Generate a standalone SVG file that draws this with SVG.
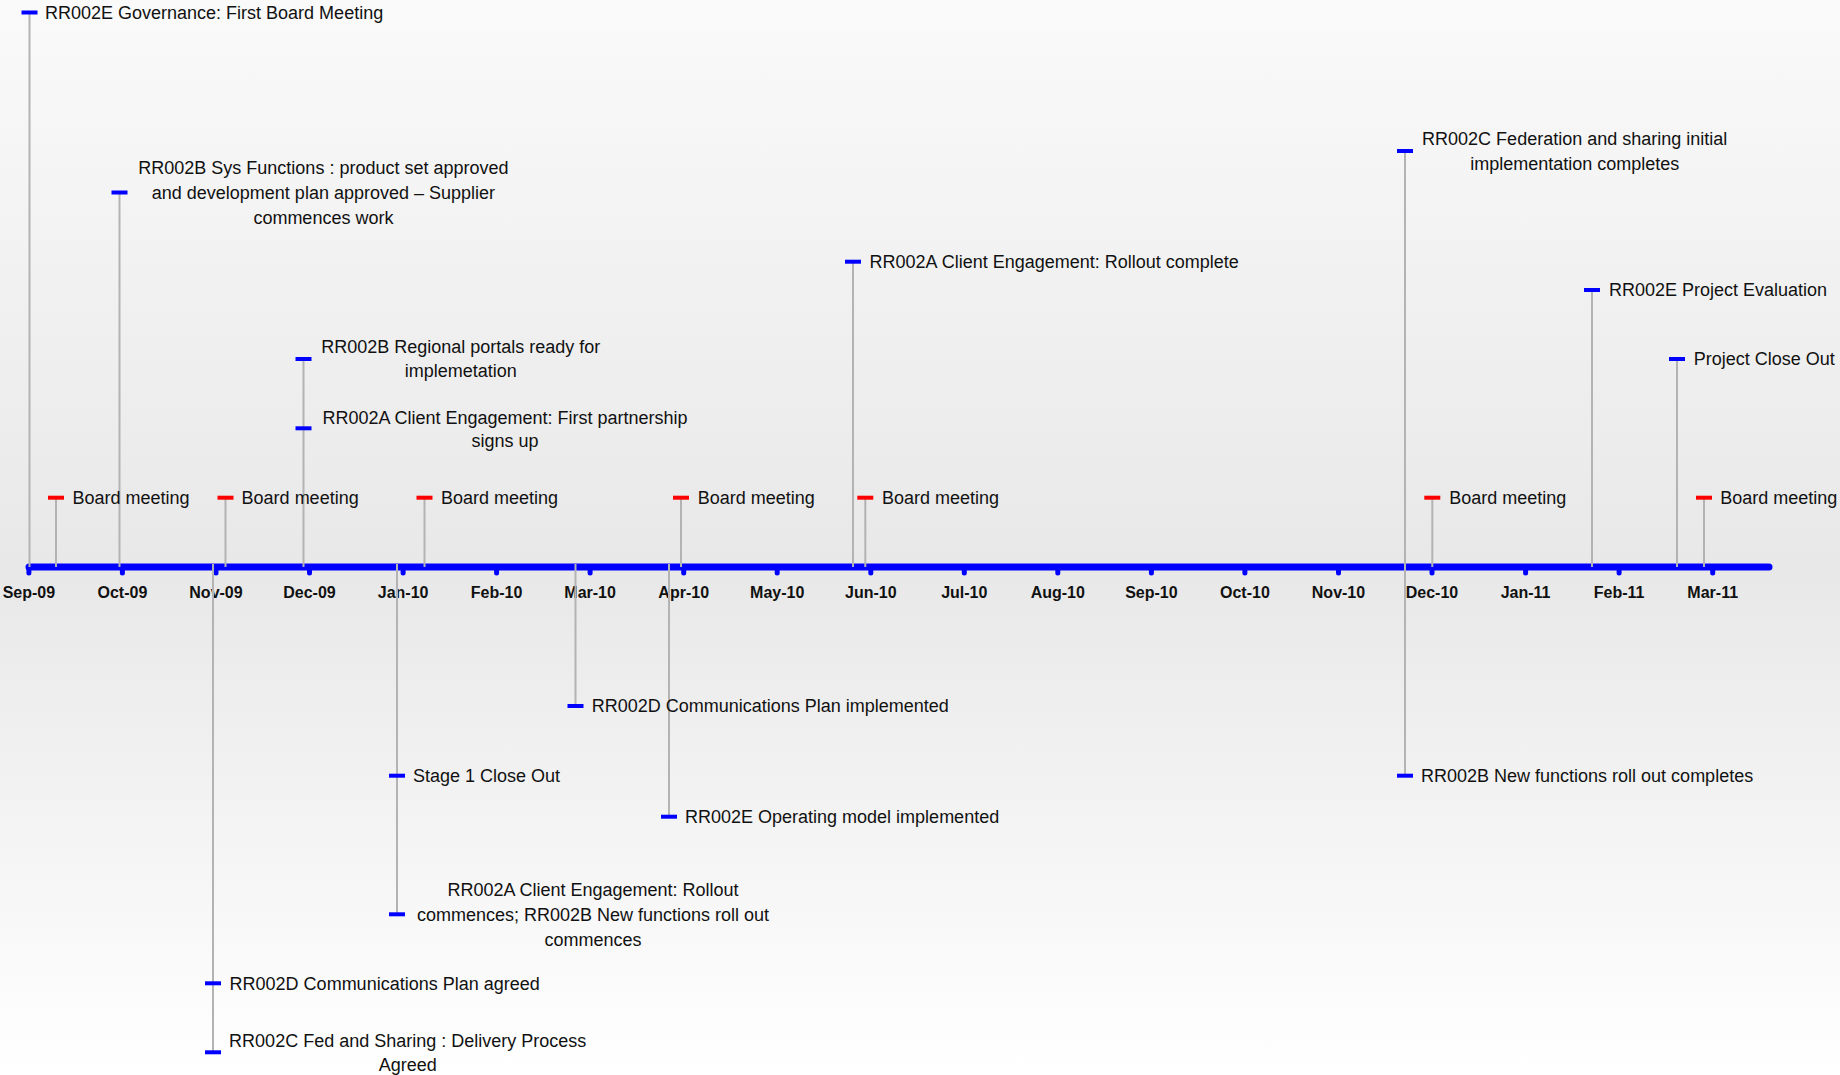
<svg xmlns="http://www.w3.org/2000/svg" width="1840" height="1075" viewBox="0 0 1840 1075">
<defs>
<linearGradient id="bg" x1="0" y1="0" x2="0" y2="1">
<stop offset="0" stop-color="#fafafa"/>
<stop offset="0.53" stop-color="#e8e8e8"/>
<stop offset="1" stop-color="#ffffff"/>
</linearGradient>
<style>
.lbl{font-family:"Liberation Sans",Arial,sans-serif;font-size:18px;fill:#111}
.c{text-anchor:middle}
.mon{font-family:"Liberation Sans",Arial,sans-serif;font-size:16px;font-weight:bold;fill:#111;text-anchor:middle}
.stem{stroke:#b3b3b3;stroke-width:2;fill:none}
.mb{fill:#0000ff}
.mr{fill:#ff0000}
.axis{stroke:#0000ff;stroke-width:7;stroke-linecap:round}
.tick{stroke:#0000ff;stroke-width:5;stroke-linecap:round}
</style>
</defs>
<rect x="0" y="0" width="1840" height="1075" fill="url(#bg)"/>

<g id="axis">
<line class="axis" x1="29" y1="567" x2="1769" y2="567"/>
<g id="ticks">
<line class="tick" x1="28.9" y1="567" x2="28.9" y2="573"/>
<line class="tick" x1="122.4" y1="567" x2="122.4" y2="573"/>
<line class="tick" x1="216" y1="567" x2="216" y2="573"/>
<line class="tick" x1="309.5" y1="567" x2="309.5" y2="573"/>
<line class="tick" x1="403.1" y1="567" x2="403.1" y2="573"/>
<line class="tick" x1="496.6" y1="567" x2="496.6" y2="573"/>
<line class="tick" x1="590.1" y1="567" x2="590.1" y2="573"/>
<line class="tick" x1="683.7" y1="567" x2="683.7" y2="573"/>
<line class="tick" x1="777.2" y1="567" x2="777.2" y2="573"/>
<line class="tick" x1="870.8" y1="567" x2="870.8" y2="573"/>
<line class="tick" x1="964.3" y1="567" x2="964.3" y2="573"/>
<line class="tick" x1="1057.8" y1="567" x2="1057.8" y2="573"/>
<line class="tick" x1="1151.4" y1="567" x2="1151.4" y2="573"/>
<line class="tick" x1="1244.9" y1="567" x2="1244.9" y2="573"/>
<line class="tick" x1="1338.5" y1="567" x2="1338.5" y2="573"/>
<line class="tick" x1="1432" y1="567" x2="1432" y2="573"/>
<line class="tick" x1="1525.6" y1="567" x2="1525.6" y2="573"/>
<line class="tick" x1="1619.1" y1="567" x2="1619.1" y2="573"/>
<line class="tick" x1="1712.7" y1="567" x2="1712.7" y2="573"/>
</g>
<g id="months">
<text class="mon" x="28.9" y="598">Sep-09</text>
<text class="mon" x="122.4" y="598">Oct-09</text>
<text class="mon" x="216" y="598">Nov-09</text>
<text class="mon" x="309.5" y="598">Dec-09</text>
<text class="mon" x="403.1" y="598">Jan-10</text>
<text class="mon" x="496.6" y="598">Feb-10</text>
<text class="mon" x="590.1" y="598">Mar-10</text>
<text class="mon" x="683.7" y="598">Apr-10</text>
<text class="mon" x="777.2" y="598">May-10</text>
<text class="mon" x="870.8" y="598">Jun-10</text>
<text class="mon" x="964.3" y="598">Jul-10</text>
<text class="mon" x="1057.8" y="598">Aug-10</text>
<text class="mon" x="1151.4" y="598">Sep-10</text>
<text class="mon" x="1244.9" y="598">Oct-10</text>
<text class="mon" x="1338.5" y="598">Nov-10</text>
<text class="mon" x="1432" y="598">Dec-10</text>
<text class="mon" x="1525.6" y="598">Jan-11</text>
<text class="mon" x="1619.1" y="598">Feb-11</text>
<text class="mon" x="1712.7" y="598">Mar-11</text>
</g>
</g>

<g id="connectors">
<line class="stem" x1="29.5" y1="13" x2="29.5" y2="567"/>
<line class="stem" x1="119.5" y1="193" x2="119.5" y2="567"/>
<line class="stem" x1="303.5" y1="359" x2="303.5" y2="567"/>
<line class="stem" x1="853" y1="262" x2="853" y2="567"/>
<line class="stem" x1="1405" y1="151" x2="1405" y2="567"/>
<line class="stem" x1="1592" y1="290" x2="1592" y2="567"/>
<line class="stem" x1="1677" y1="359" x2="1677" y2="567"/>
<line class="stem" x1="56" y1="498" x2="56" y2="567"/>
<line class="stem" x1="225.5" y1="498" x2="225.5" y2="567"/>
<line class="stem" x1="424.5" y1="498" x2="424.5" y2="567"/>
<line class="stem" x1="681" y1="498" x2="681" y2="567"/>
<line class="stem" x1="865.3" y1="498" x2="865.3" y2="567"/>
<line class="stem" x1="1432.3" y1="498" x2="1432.3" y2="567"/>
<line class="stem" x1="1704" y1="498" x2="1704" y2="567"/>
<line class="stem" x1="575.5" y1="564" x2="575.5" y2="706"/>
<line class="stem" x1="669" y1="564" x2="669" y2="817"/>
<line class="stem" x1="397" y1="564" x2="397" y2="914"/>
<line class="stem" x1="213" y1="564" x2="213" y2="1052"/>
<line class="stem" x1="1405" y1="564" x2="1405" y2="776"/>
</g>

<g id="ev-gov"><rect class="mb" x="21.5" y="10.5" width="16" height="4"/><text class="lbl" x="45" y="19">RR002E Governance: First Board Meeting</text></g>
<g id="ev-sysfunc"><rect class="mb" x="111.5" y="190.5" width="16" height="4"/><text class="lbl c"><tspan x="323.4" y="174.1">RR002B Sys Functions : product set approved</tspan><tspan x="323.4" y="199.1">and development plan approved – Supplier</tspan><tspan x="323.4" y="224.1">commences work</tspan></text></g>
<g id="ev-portals"><rect class="mb" x="295.5" y="357" width="16" height="4"/><text class="lbl c"><tspan x="460.8" y="353.1">RR002B Regional portals ready for</tspan><tspan x="460.8" y="377.4">implemetation</tspan></text></g>
<g id="ev-partnership"><rect class="mb" x="295.5" y="426.3" width="16" height="4"/><text class="lbl c"><tspan x="505" y="423.7">RR002A Client Engagement: First partnership</tspan><tspan x="505" y="447.4">signs up</tspan></text></g>
<g id="ev-rollout-complete"><rect class="mb" x="845" y="259.7" width="16" height="4"/><text class="lbl" x="869.6" y="268.1">RR002A Client Engagement: Rollout complete</text></g>
<g id="ev-federation"><rect class="mb" x="1397" y="149" width="16" height="4"/><text class="lbl c"><tspan x="1574.7" y="144.7">RR002C Federation and sharing initial</tspan><tspan x="1574.7" y="169.7">implementation completes</tspan></text></g>
<g id="ev-evaluation"><rect class="mb" x="1584" y="288" width="16" height="4"/><text class="lbl" x="1609" y="296.4">RR002E Project Evaluation</text></g>
<g id="ev-closeout"><rect class="mb" x="1669" y="357" width="16" height="4"/><text class="lbl" x="1693.7" y="365.4">Project Close Out</text></g>

<g id="ev-board1"><rect class="mr" x="48" y="495.7" width="16" height="4"/><text class="lbl" x="72.4" y="504.1">Board meeting</text></g>
<g id="ev-board2"><rect class="mr" x="217.5" y="495.7" width="16" height="4"/><text class="lbl" x="241.6" y="504.1">Board meeting</text></g>
<g id="ev-board3"><rect class="mr" x="416.5" y="495.7" width="16" height="4"/><text class="lbl" x="441" y="504.1">Board meeting</text></g>
<g id="ev-board4"><rect class="mr" x="673" y="495.7" width="16" height="4"/><text class="lbl" x="697.7" y="504.1">Board meeting</text></g>
<g id="ev-board5"><rect class="mr" x="857.3" y="495.7" width="16" height="4"/><text class="lbl" x="882" y="504.1">Board meeting</text></g>
<g id="ev-board6"><rect class="mr" x="1424.3" y="495.7" width="16" height="4"/><text class="lbl" x="1449.3" y="504.1">Board meeting</text></g>
<g id="ev-board7"><rect class="mr" x="1696" y="495.7" width="16" height="4"/><text class="lbl" x="1720.2" y="504.1">Board meeting</text></g>

<g id="ev-comms-impl"><rect class="mb" x="567.5" y="704" width="16" height="4"/><text class="lbl" x="591.7" y="712.4">RR002D Communications Plan implemented</text></g>
<g id="ev-opmodel"><rect class="mb" x="661" y="814.7" width="16" height="4"/><text class="lbl" x="685" y="823.1">RR002E Operating model implemented</text></g>
<g id="ev-stage1"><rect class="mb" x="389" y="773.7" width="16" height="4"/><text class="lbl" x="413" y="782.1">Stage 1 Close Out</text></g>
<g id="ev-rollout-commences"><rect class="mb" x="389" y="912.3" width="16" height="4"/><text class="lbl c"><tspan x="593" y="896.4">RR002A Client Engagement: Rollout</tspan><tspan x="593" y="920.7">commences; RR002B New functions roll out</tspan><tspan x="593" y="945.7">commences</tspan></text></g>
<g id="ev-comms-agreed"><rect class="mb" x="205" y="981.3" width="16" height="4"/><text class="lbl" x="229.6" y="989.7">RR002D Communications Plan agreed</text></g>
<g id="ev-fedsharing"><rect class="mb" x="205" y="1050.3" width="16" height="4"/><text class="lbl c"><tspan x="407.7" y="1047.1">RR002C Fed and Sharing : Delivery Process</tspan><tspan x="407.7" y="1071.4">Agreed</tspan></text></g>
<g id="ev-newfunc-complete"><rect class="mb" x="1397" y="773.7" width="16" height="4"/><text class="lbl" x="1421" y="782.1">RR002B New functions roll out completes</text></g>
</svg>
